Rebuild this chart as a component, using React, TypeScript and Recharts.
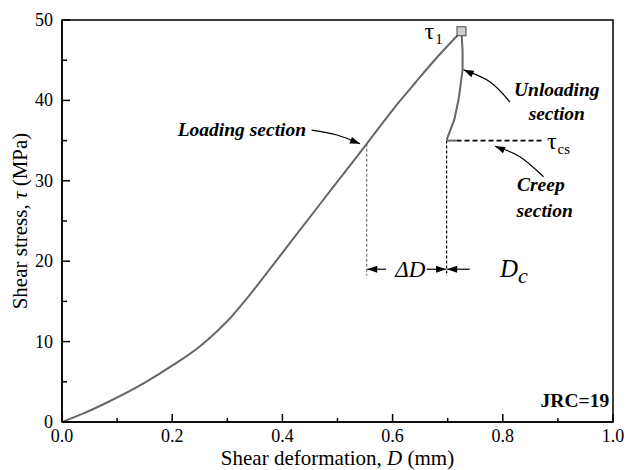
import React from 'react';
import { ComposedChart, Line, XAxis, YAxis, Scatter, ReferenceArea, Label } from 'recharts';

const loadingCurve = [
  { x: 0, y: 0 }, { x: 0.04, y: 1.1 }, { x: 0.078, y: 2.3 }, { x: 0.148, y: 4.8 },
  { x: 0.202, y: 7.1 }, { x: 0.25, y: 9.4 }, { x: 0.28, y: 11.2 }, { x: 0.305, y: 12.9 },
  { x: 0.33, y: 14.9 }, { x: 0.36, y: 17.5 }, { x: 0.432, y: 23.9 }, { x: 0.492, y: 29.2 },
  { x: 0.553, y: 34.6 }, { x: 0.613, y: 39.9 }, { x: 0.64, y: 42.1 }, { x: 0.68, y: 45.3 },
  { x: 0.725, y: 48.6 },
];
const unloadingCurve = [
  { x: 0.725, y: 48.6 }, { x: 0.727, y: 46.2 }, { x: 0.727, y: 43.8 }, { x: 0.72, y: 40.2 },
  { x: 0.712, y: 37.6 }, { x: 0.698, y: 35.1 },
];
const creepSolid = [{ x: 0.698, y: 35 }, { x: 0.716, y: 35 }];
const creepDashed = [{ x: 0.716, y: 35 }, { x: 0.873, y: 35 }];
const dropLoading = [{ x: 0.553, y: 34.6 }, { x: 0.553, y: 18.2 }];
const dropCreep = [{ x: 0.698, y: 35 }, { x: 0.698, y: 18.2 }];
const peakPoint = [{ x: 0.725, y: 48.6 }];

const xTicks = [0, 0.1, 0.2, 0.3, 0.4, 0.5, 0.6, 0.7, 0.8, 0.9, 1.0];
const xMajor = ['0.0', '0.2', '0.4', '0.6', '0.8', '1.0'];
const yTicks = [0, 5, 10, 15, 20, 25, 30, 35, 40, 45, 50];
const yMajor = [0, 10, 20, 30, 40, 50];

const arrowLoading = [{ x: 0.453, y: 36.3 }, { x: 0.499, y: 35.7 }, { x: 0.541, y: 34.6 }];
const arrowUnloading = [{ x: 0.813, y: 39.8 }, { x: 0.777, y: 42.3 }, { x: 0.729, y: 43.8 }];
const arrowCreep = [{ x: 0.874, y: 30.5 }, { x: 0.831, y: 33.0 }, { x: 0.786, y: 34.3 }];
const arrowDeltaLeft = [{ x: 0.588, y: 19 }, { x: 0.554, y: 19 }];
const arrowDcRight = [{ x: 0.662, y: 19 }, { x: 0.697, y: 19 }];
const arrowDcLeft = [{ x: 0.740, y: 19 }, { x: 0.699, y: 19 }];

const labels = [
  { x: 0.443, y: 35.6, kind: 'section', anchor: 'end', text: 'Loading section', sub: '' },
  { x: 0.898, y: 40.5, kind: 'section', anchor: 'middle', text: 'Unloading', sub: '' },
  { x: 0.898, y: 37.6, kind: 'section', anchor: 'middle', text: 'section', sub: '' },
  { x: 0.869, y: 28.7, kind: 'section', anchor: 'middle', text: 'Creep', sub: '' },
  { x: 0.876, y: 25.5, kind: 'section', anchor: 'middle', text: 'section', sub: '' },
  { x: 0.658, y: 47.6, kind: 'symbol', anchor: 'start', text: 'τ', sub: '1' },
  { x: 0.880, y: 33.9, kind: 'symbol', anchor: 'start', text: 'τ', sub: 'cs' },
  { x: 0.632, y: 18.0, kind: 'italic', anchor: 'middle', text: 'ΔD', sub: '' },
  { x: 0.795, y: 18.0, kind: 'italicSub', anchor: 'start', text: 'D', sub: 'c' },
  { x: 0.993, y: 1.9, kind: 'bold', anchor: 'end', text: 'JRC=19', sub: '' },
];

const FONT = "'Liberation Serif', 'Times New Roman', Times, serif";
const baseStyle: React.CSSProperties = { fontFamily: FONT };

const XTick = (props: any) => {
  const { x, y, payload } = props;
  const v = payload.value as number;
  const lbl = v.toFixed(1);
  const major = xMajor.includes(lbl);
  return (
    <g>
      <line x1={x} x2={x} y1={y} y2={y - (major ? 8 : 4)} stroke="#000" strokeWidth={1.5} />
      {major && (
        <text x={x} y={y + 20} textAnchor="middle" style={{ ...baseStyle, fontSize: 18 }} fill="#000">
          {lbl}
        </text>
      )}
    </g>
  );
};

const YTick = (props: any) => {
  const { x, y, payload } = props;
  const v = payload.value as number;
  const major = yMajor.includes(v);
  return (
    <g>
      <line x1={x} x2={x + (major ? 8 : 5)} y1={y} y2={y} stroke="#000" strokeWidth={1.5} />
      {major && (
        <text x={x - 9} y={y + 6} textAnchor="end" style={{ ...baseStyle, fontSize: 18 }} fill="#000">
          {v}
        </text>
      )}
    </g>
  );
};

const arrowDot = (props: any) => {
  const { cx, cy, index, points } = props;
  const n = points ? points.length : 0;
  if (!points || index !== n - 1 || cx == null) return <g key={`d${index}`} />;
  const prev = points[n - 2];
  const ang = (Math.atan2(cy - prev.y, cx - prev.x) * 180) / Math.PI;
  return (
    <path
      key={`d${index}`}
      d="M0,0 L-10,-3.5 L-10,3.5 Z"
      fill="#000"
      transform={`translate(${cx},${cy}) rotate(${ang})`}
    />
  );
};

const labelShape = (props: any) => {
  const { cx, cy, payload } = props;
  const p = payload;
  if (p.kind === 'section') {
    return (
      <text x={cx} y={cy} textAnchor={p.anchor} style={{ ...baseStyle, fontSize: 19.5, fontWeight: 'bold', fontStyle: 'italic' }} fill="#000">
        {p.text}
      </text>
    );
  }
  if (p.kind === 'symbol') {
    return (
      <text x={cx} y={cy} textAnchor={p.anchor} style={{ ...baseStyle, fontSize: 24 }} fill="#000">
        {p.text}
        <tspan style={{ fontSize: 15 }} dy={5} dx={1}>{p.sub}</tspan>
      </text>
    );
  }
  if (p.kind === 'italic') {
    return (
      <text x={cx} y={cy} textAnchor={p.anchor} style={{ ...baseStyle, fontSize: 23, fontStyle: 'italic' }} fill="#000">
        {p.text}
      </text>
    );
  }
  if (p.kind === 'italicSub') {
    return (
      <text x={cx} y={cy} textAnchor={p.anchor} style={{ ...baseStyle, fontSize: 25, fontStyle: 'italic' }} fill="#000">
        {p.text}
        <tspan style={{ fontSize: 22 }} dy={6}>{p.sub}</tspan>
      </text>
    );
  }
  return (
    <text x={cx} y={cy} textAnchor={p.anchor} style={{ ...baseStyle, fontSize: 19.5, fontWeight: 'bold' }} fill="#000">
      {p.text}
    </text>
  );
};

const squareShape = (props: any) => {
  const { cx, cy } = props;
  return <rect x={cx - 4.5} y={cy - 4.5} width={9} height={9} fill="#cfcfcf" stroke="#444" strokeWidth={1} />;
};

const YLabel = (props: any) => {
  const vb = props.viewBox || { x: 0, y: 20, width: 62, height: 402 };
  const cx = vb.x + 27;
  const cy = vb.y + vb.height / 2;
  return (
    <text x={cx} y={cy} transform={`rotate(-90 ${cx} ${cy})`} textAnchor="middle" style={{ ...baseStyle, fontSize: 21 }} fill="#000">
      Shear stress, <tspan style={{ fontStyle: 'italic' }}>τ</tspan> (MPa)
    </text>
  );
};

const XLabel = (props: any) => {
  const vb = props.viewBox || { x: 62, y: 422, width: 551, height: 48 };
  return (
    <text x={vb.x + vb.width / 2} y={vb.y + 43} textAnchor="middle" style={{ ...baseStyle, fontSize: 21 }} fill="#000">
      Shear deformation, <tspan style={{ fontStyle: 'italic' }}>D</tspan> (mm)
    </text>
  );
};

export default function App() {
  return (
    <div style={{ position: 'absolute', left: 0, top: 0, background: '#fff', fontFamily: FONT }}>
      <ComposedChart width={628} height={470} margin={{ top: 20, right: 15, bottom: 0, left: 0 }}>
        <XAxis
          type="number"
          dataKey="x"
          domain={[0, 1]}
          ticks={xTicks}
          interval={0}
          allowDataOverflow
          height={48}
          tickSize={0}
          tickMargin={0}
          tick={XTick}
          axisLine={{ stroke: '#000', strokeWidth: 1.5 }}
        >
          <Label content={XLabel} />
        </XAxis>
        <YAxis
          type="number"
          dataKey="y"
          domain={[0, 50]}
          ticks={yTicks}
          interval={0}
          allowDataOverflow
          width={62}
          tickSize={0}
          tickMargin={0}
          tick={YTick}
          axisLine={{ stroke: '#000', strokeWidth: 1.5 }}
        >
          <Label content={YLabel} />
        </YAxis>
        <ReferenceArea x1={0} x2={1} y1={0} y2={50} fill="none" fillOpacity={0} stroke="#000" strokeWidth={1.5} />
        <Line data={dropLoading} dataKey="y" type="linear" stroke="#777" strokeWidth={1.2} strokeDasharray="3 2" dot={false} activeDot={false} isAnimationActive={false} />
        <Line data={dropCreep} dataKey="y" type="linear" stroke="#000" strokeWidth={1.2} strokeDasharray="3 2" dot={false} activeDot={false} isAnimationActive={false} />
        <Line data={creepDashed} dataKey="y" type="linear" stroke="#000" strokeWidth={1.8} strokeDasharray="5 3" dot={false} activeDot={false} isAnimationActive={false} />
        <Line data={loadingCurve} dataKey="y" type="monotone" stroke="#666" strokeWidth={2} dot={false} activeDot={false} isAnimationActive={false} />
        <Line data={unloadingCurve} dataKey="y" type="linear" stroke="#666" strokeWidth={2} dot={false} activeDot={false} isAnimationActive={false} />
        <Line data={creepSolid} dataKey="y" type="linear" stroke="#666" strokeWidth={2} dot={false} activeDot={false} isAnimationActive={false} />
        <Line data={arrowLoading} dataKey="y" type="natural" stroke="#000" strokeWidth={1.2} dot={arrowDot} activeDot={false} isAnimationActive={false} />
        <Line data={arrowUnloading} dataKey="y" type="natural" stroke="#000" strokeWidth={1.2} dot={arrowDot} activeDot={false} isAnimationActive={false} />
        <Line data={arrowCreep} dataKey="y" type="natural" stroke="#000" strokeWidth={1.2} dot={arrowDot} activeDot={false} isAnimationActive={false} />
        <Line data={arrowDeltaLeft} dataKey="y" type="linear" stroke="#000" strokeWidth={1.2} dot={arrowDot} activeDot={false} isAnimationActive={false} />
        <Line data={arrowDcRight} dataKey="y" type="linear" stroke="#000" strokeWidth={1.2} dot={arrowDot} activeDot={false} isAnimationActive={false} />
        <Line data={arrowDcLeft} dataKey="y" type="linear" stroke="#000" strokeWidth={1.2} dot={arrowDot} activeDot={false} isAnimationActive={false} />
        <Scatter data={peakPoint} shape={squareShape} isAnimationActive={false} />
        <Scatter data={labels} shape={labelShape} isAnimationActive={false} />
      </ComposedChart>
    </div>
  );
}
